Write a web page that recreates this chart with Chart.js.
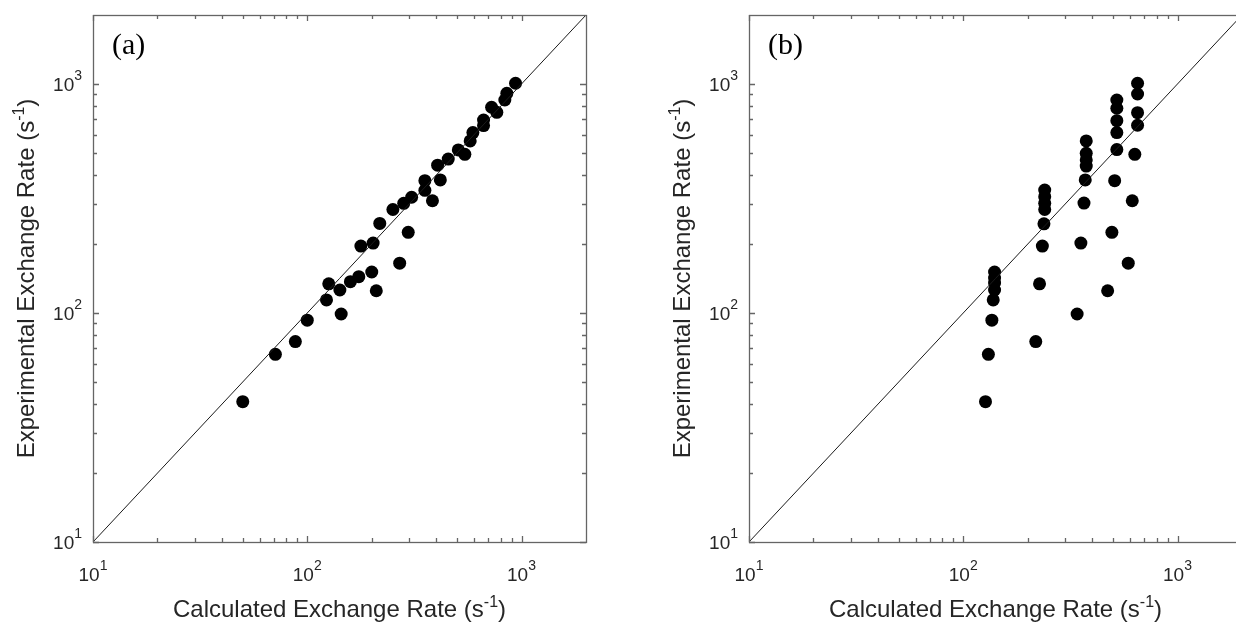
<!DOCTYPE html>
<html>
<head>
<meta charset="utf-8">
<script src="https://cdn.jsdelivr.net/npm/chart.js@4.4.1/dist/chart.umd.min.js"></script>
<style>
  html, body { margin: 0; padding: 0; background: #fff; }
  #wrap { position: relative; width: 1236px; height: 624px; overflow: hidden; }
  #wrap canvas { position: absolute; top: 0; }
  #chartA { left: 0; }
  #chartB { left: 656px; }
</style>
</head>
<body>
<div id="wrap">
  <canvas id="chartA" width="620" height="624"></canvas>
  <canvas id="chartB" width="620" height="624"></canvas>
</div>
<script>
// Panel (a): calculated vs experimental exchange rate (s^-1)
const calcA = [938, 854, 836, 725, 767, 665, 665, 593, 576, 507, 544, 455, 406, 354, 418, 354, 384, 307, 282,
               251, 218, 296, 178, 203, 270, 200, 174, 159, 126, 142, 210, 123, 144, 100, 88, 71, 50];
const expA  = [1007, 910, 851, 791, 752, 696, 658, 613, 564, 515, 493, 470, 442, 378, 381, 343, 309, 320, 301,
               283, 246, 225, 196, 202, 165, 151, 144, 137, 134, 126, 125, 114, 99, 93, 75, 66, 41];

// Panel (b): same experimental rates against the second set of calculated rates
const calcB = [651, 651, 651, 651, 632, 615, 589,
               521, 521, 521, 521, 521, 509, 494, 472,
               375, 375, 375, 375, 371, 366, 354, 340,
               240, 240, 240, 240, 238, 234, 227, 218,
               140, 140, 140, 140, 138, 136, 131, 127];
const expB  = [1007, 904, 749, 660, 493, 309, 165,
               851, 783, 691, 613, 517, 378, 225, 125,
               564, 498, 466, 438, 381, 302, 202, 99,
               344, 322, 301, 283, 245, 196, 134, 75,
               151, 142, 135, 126, 114, 93, 66, 41];

// axis range and ticks (both axes)
const axisMin = 10;
const axisMax = 2000;
const majorTicks = [10, 100, 1000];
const majorExp = ['1', '2', '3'];
const minorTicks = [20, 30, 40, 50, 60, 70, 80, 90, 200, 300, 400, 500, 600, 700, 800, 900];
const identity = [10, 2000];

const xTitle = 'Calculated Exchange Rate (s';
const yTitle = 'Experimental Exchange Rate (s';
const titleSup = '-1';

const axisColor = '#656565';
const textColor = '#262626';
const sans = '"Liberation Sans", Arial, Helvetica, sans-serif';

// draws "base" followed by a raised superscript
function supText(ctx, base, sup, x, y, align, size, supSize, rise) {
  ctx.font = size + 'px ' + sans;
  const wb = ctx.measureText(base).width;
  ctx.font = supSize + 'px ' + sans;
  const ws = ctx.measureText(sup).width;
  let x0 = x;
  if (align === 'center') x0 = x - (wb + ws) / 2;
  else if (align === 'right') x0 = x - (wb + ws);
  ctx.textAlign = 'left';
  ctx.textBaseline = 'alphabetic';
  ctx.font = size + 'px ' + sans;
  ctx.fillText(base, x0, y);
  ctx.font = supSize + 'px ' + sans;
  ctx.fillText(sup, x0 + wb, y - rise);
}

// axis title: text + superscript + closing paren, centred on x
function titleText(ctx, x, y, text) {
  const size = 24, supSize = 16;
  ctx.font = size + 'px ' + sans;
  const w1 = ctx.measureText(text).width;
  const w3 = ctx.measureText(')').width;
  ctx.font = supSize + 'px ' + sans;
  const w2 = ctx.measureText(titleSup).width;
  const x0 = x - (w1 + w2 + w3) / 2;
  ctx.textAlign = 'left';
  ctx.textBaseline = 'alphabetic';
  ctx.font = size + 'px ' + sans;
  ctx.fillText(text, x0, y);
  ctx.fillText(')', x0 + w1 + w2, y);
  ctx.font = supSize + 'px ' + sans;
  ctx.fillText(titleSup, x0 + w1, y - 10);
}

// MATLAB-like box: inward ticks on all four sides, power-of-ten labels
const framePlugin = {
  id: 'frame',
  afterDraw(chart, args, opts) {
    const { ctx, chartArea: a, scales: { x, y } } = chart;
    ctx.save();
    ctx.strokeStyle = axisColor;
    ctx.lineWidth = 1.3;
    ctx.beginPath();
    const tick = (v, len) => {
      const px = Math.round(x.getPixelForValue(v)) + 0.5;
      ctx.moveTo(px, a.bottom); ctx.lineTo(px, a.bottom - len);
      ctx.moveTo(px, a.top); ctx.lineTo(px, a.top + len);
      const py = Math.round(y.getPixelForValue(v)) + 0.5;
      ctx.moveTo(a.left, py); ctx.lineTo(a.left + len, py);
      ctx.moveTo(a.right, py); ctx.lineTo(a.right - len, py);
    };
    minorTicks.forEach(v => tick(v, 4));
    majorTicks.forEach(v => tick(v, 6));
    ctx.stroke();
    ctx.strokeRect(a.left + 0.5, a.top + 0.5, a.right - a.left, a.bottom - a.top);

    ctx.fillStyle = textColor;
    majorTicks.forEach((v, i) => {
      supText(ctx, '10', majorExp[i], x.getPixelForValue(v), a.bottom + 39, 'center', 19, 14, 11);
      supText(ctx, '10', majorExp[i], a.left - 11, y.getPixelForValue(v) + 7, 'right', 19, 14, 11);
    });

    titleText(ctx, (a.left + a.right) / 2, 617, xTitle);
    ctx.save();
    ctx.translate(34, (a.top + a.bottom) / 2);
    ctx.rotate(-Math.PI / 2);
    titleText(ctx, 0, 0, yTitle);
    ctx.restore();

    ctx.font = '30px "Liberation Serif", "Times New Roman", serif';
    ctx.textAlign = 'left';
    ctx.fillStyle = '#000';
    ctx.fillText(opts.letter, a.left + 19, 54);
    ctx.restore();
  }
};

function makePanel(id, calc, exp, letter) {
  const pts = calc.map((c, i) => ({ x: c, y: exp[i] }));
  const diag = identity.map(v => ({ x: v, y: v }));
  return new Chart(document.getElementById(id), {
    type: 'scatter',
    data: {
      datasets: [
        {
          type: 'line',
          data: diag,
          borderColor: '#1a1a1a',
          borderWidth: 1,
          pointRadius: 0,
          fill: false
        },
        {
          data: pts,
          backgroundColor: '#000',
          borderColor: '#000',
          pointRadius: 6.5,
          pointBorderWidth: 0
        }
      ]
    },
    options: {
      responsive: false,
      animation: false,
      devicePixelRatio: 1,
      layout: { padding: { left: 93, right: 34, top: 15, bottom: 82 } },
      scales: {
        x: { type: 'logarithmic', min: axisMin, max: axisMax, display: false },
        y: { type: 'logarithmic', min: axisMin, max: axisMax, display: false }
      },
      plugins: {
        legend: { display: false },
        tooltip: { enabled: false },
        frame: { letter: letter }
      }
    },
    plugins: [framePlugin]
  });
}

makePanel('chartA', calcA, expA, '(a)');
makePanel('chartB', calcB, expB, '(b)');
</script>
</body>
</html>
